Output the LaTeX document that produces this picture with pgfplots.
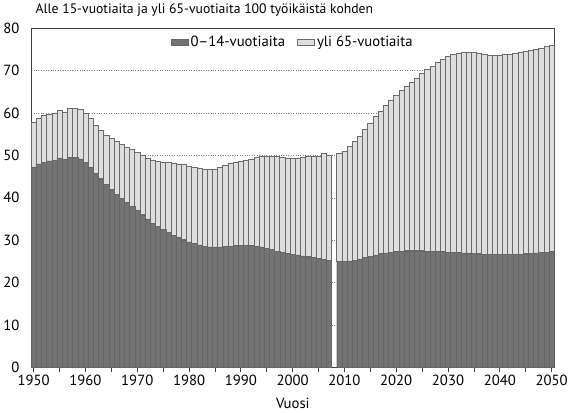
\documentclass[border=0pt]{standalone}
\usepackage{fontspec}
\setmainfont{PT Sans}
\usepackage{pgfplots}
\usepackage{pgfplotstable}
\pgfplotsset{compat=1.18}

\newcommand\fs{\fontsize{14.5bp}{16bp}\selectfont}

% 0-14-vuotiaat ja kaikki huollettavat (0-14 + yli 65) / 100 tyoikaista
\pgfplotstableread{
year young total
1950 47.3 57.9
1951 48.0 58.7
1952 48.4 59.4
1953 48.7 59.8
1954 48.9 60.0
1955 49.4 60.6
1956 49.0 60.3
1957 49.5 61.1
1958 49.5 61.1
1959 49.2 61.0
1960 48.3 60.0
1961 47.2 58.7
1962 45.8 57.2
1963 44.5 55.9
1964 43.2 54.8
1965 42.0 54.0
1966 40.8 53.3
1967 39.8 52.6
1968 38.9 52.0
1969 38.0 51.4
1970 37.0 50.8
1971 36.0 50.1
1972 35.0 49.4
1973 34.0 48.8
1974 33.2 48.6
1975 32.5 48.4
1976 31.8 48.4
1977 31.2 48.2
1978 30.6 48.0
1979 30.1 47.8
1980 29.6 47.5
1981 29.2 47.2
1982 28.9 47.0
1983 28.6 46.8
1984 28.4 46.7
1985 28.4 46.8
1986 28.4 47.2
1987 28.5 47.6
1988 28.6 48.2
1989 28.7 48.5
1990 28.7 48.6
1991 28.7 48.8
1992 28.7 49.1
1993 28.6 49.5
1994 28.4 49.9
1995 28.1 49.9
1996 27.8 49.9
1997 27.4 49.8
1998 27.1 49.6
1999 26.9 49.4
2000 26.7 49.3
2001 26.5 49.3
2002 26.3 49.5
2003 26.1 49.7
2004 25.9 49.8
2005 25.7 49.9
2006 25.5 50.5
2007 25.3 50.1
2009 25.0 50.6
2010 25.0 51.0
2011 25.1 52.2
2012 25.3 53.3
2013 25.6 54.6
2014 25.9 56.1
2015 26.2 57.7
2016 26.5 59.2
2017 26.8 60.5
2018 27.0 61.9
2019 27.2 63.1
2020 27.3 64.2
2021 27.4 65.3
2022 27.5 66.3
2023 27.5 67.3
2024 27.5 68.3
2025 27.5 69.3
2026 27.4 70.3
2027 27.4 71.1
2028 27.3 71.9
2029 27.3 72.7
2030 27.2 73.3
2031 27.2 73.8
2032 27.1 74.1
2033 27.0 74.3
2034 27.0 74.4
2035 26.9 74.3
2036 26.8 74.1
2037 26.7 73.8
2038 26.7 73.6
2039 26.6 73.6
2040 26.6 73.7
2041 26.6 73.8
2042 26.6 73.9
2043 26.7 74.1
2044 26.7 74.3
2045 26.8 74.5
2046 26.9 74.8
2047 27.0 75.1
2048 27.1 75.4
2049 27.2 75.7
2050 27.3 75.9
}\data

\begin{document}
\begin{tikzpicture}
\begin{axis}[
    scale only axis,
    width=516bp,
    height=334bp,
    xmin=1949.5, xmax=2050.6,
    ymin=0, ymax=80,
    ybar stacked,
    bar width=1,
    font=\fs,
    axis line style={black!75, line width=0.7pt},
    xtick={1950,1960,...,2050},
    minor xtick={1955,1965,...,2045},
    xtick pos=bottom,
    tick align=outside,
    major tick length=5bp,
    minor tick length=5bp,
    x tick style={black!75, line width=0.7pt},
    ytick={0,10,...,80},
    ytick pos=left,
    y tick style={draw=none},
    ymajorgrids,
    grid style={dotted, black!50},
    /pgf/number format/assume math mode=true,
    xticklabel style={/pgf/number format/1000 sep={}, yshift=1bp},
    yticklabel style={xshift=-3bp},
    xlabel={Vuosi},
    xlabel style={yshift=-6bp},
    title={Alle 15-vuotiaita ja yli 65-vuotiaita 100 työikäistä kohden},
    title style={at={(rel axis cs:0,1)}, anchor=base west, yshift=9bp, xshift=1bp,
        font=\fontsize{13.5bp}{15bp}\selectfont},
    legend style={draw=none, fill=none, at={(0.5,0.99)}, anchor=north,
        legend columns=2, font=\fs,
        /tikz/every even column/.append style={column sep=10bp}},
    area legend,
]
\addplot[fill=black!55, draw=black!60, line width=0.3pt]
    table[x=year, y=young] {\data};
\addlegendentry{0--14-vuotiaita}
\addplot[fill=black!13, draw=black!58, line width=0.5pt]
    table[x=year, y expr=\thisrow{total}-\thisrow{young}] {\data};
\addlegendentry{yli 65-vuotiaita}
\end{axis}
\end{tikzpicture}
\end{document}
